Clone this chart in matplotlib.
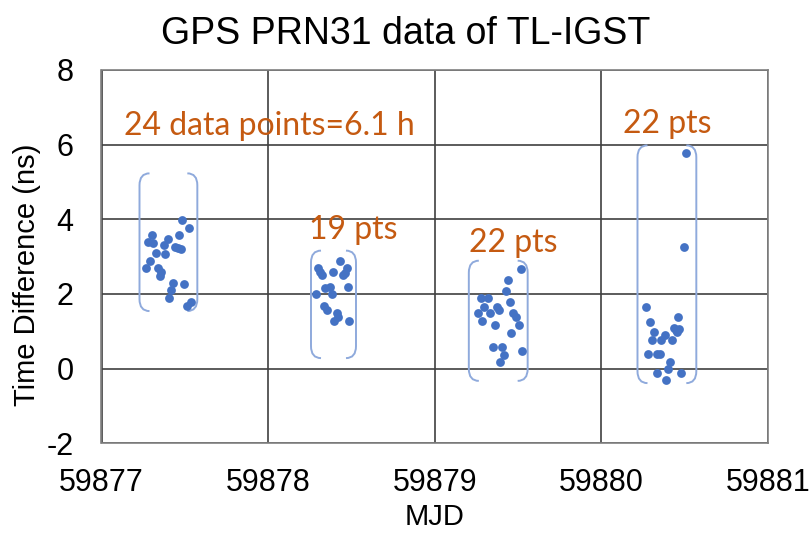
import matplotlib
matplotlib.use("Agg")
import matplotlib.pyplot as plt
from matplotlib.path import Path
from matplotlib.patches import PathPatch

plt.rcParams['axes.unicode_minus'] = False

# ---- data ----
mjd_day1 = [59877.483, 59877.525, 59877.304, 59877.463, 59877.397, 59877.280, 59877.309, 59877.373,
            59877.439, 59877.459, 59877.475, 59877.325, 59877.381, 59877.293, 59877.269, 59877.340,
            59877.359, 59877.349, 59877.429, 59877.493, 59877.415, 59877.405, 59877.535, 59877.515]
td_day1 = [3.99, 3.77, 3.58, 3.58, 3.47, 3.40, 3.36, 3.32, 3.27, 3.22, 3.21, 3.10, 3.07, 2.87, 2.69, 2.69,
           2.58, 2.48, 2.28, 2.27, 2.11, 1.89, 1.79, 1.68]

mjd_day2 = [59878.433, 59878.298, 59878.471, 59878.311, 59878.322, 59878.391, 59878.451, 59878.461,
            59878.341, 59878.371, 59878.477, 59878.287, 59878.381, 59878.337, 59878.353, 59878.413,
            59878.421, 59878.397, 59878.487]
td_day2 = [2.87, 2.70, 2.70, 2.60, 2.52, 2.58, 2.51, 2.56, 2.17, 2.19, 2.19, 2.00, 2.00, 1.68, 1.58, 1.49,
           1.37, 1.28, 1.28]

mjd_day3 = [59879.515, 59879.441, 59879.429, 59879.275, 59879.319, 59879.449, 59879.295, 59879.375,
            59879.385, 59879.262, 59879.331, 59879.469, 59879.485, 59879.286, 59879.505, 59879.359,
            59879.459, 59879.349, 59879.405, 59879.525, 59879.415, 59879.391]
td_day3 = [2.67, 2.37, 2.09, 1.88, 1.88, 1.77, 1.66, 1.66, 1.58, 1.48, 1.48, 1.49, 1.37, 1.28, 1.17, 1.16,
           0.95, 0.58, 0.58, 0.47, 0.36, 0.18]

mjd_day4 = [59880.507, 59880.497, 59880.268, 59880.457, 59880.289, 59880.437, 59880.467, 59880.313,
            59880.453, 59880.379, 59880.304, 59880.359, 59880.423, 59880.280, 59880.334, 59880.349,
            59880.413, 59880.399, 59880.334, 59880.479, 59880.389, 59880.445]
td_day4 = [5.78, 3.27, 1.66, 1.39, 1.26, 1.08, 1.06, 0.98, 0.97, 0.90, 0.77, 0.77, 0.77, 0.38, 0.38, 0.38,
           0.18, -0.02, -0.13, -0.13, -0.31, 1.02]

# bracket extents (x_left, x_right, y_bottom, y_top)
brackets = [(59877.228, 59877.575, 1.54, 5.23),
            (59878.257, 59878.527, 0.28, 3.16),
            (59879.204, 59879.557, -0.33, 2.89),
            (59880.216, 59880.569, -0.39, 5.98)]

labels = ["24 data points=6.1 h", "19 pts", "22 pts", "22 pts"]
label_pos = [(59878.005, 6.49), (59878.509, 3.72), (59879.473, 3.37), (59880.395, 6.55)]

x_ticks = [59877, 59878, 59879, 59880, 59881]
y_ticks = [-2, 0, 2, 4, 6, 8]

# ---- figure ----
fig = plt.figure(figsize=(8.12, 5.34), dpi=100)
ax = fig.add_axes([0.125, 0.170, 0.821, 0.699])

blue = "#4472C4"
orange = "#C55A11"
bracket_col = "#8FAADC"
grid_col = "#404040"

for xs, ys in [(mjd_day1, td_day1), (mjd_day2, td_day2), (mjd_day3, td_day3), (mjd_day4, td_day4)]:
    ax.scatter(xs, ys, s=40, color=blue, zorder=3, linewidths=0)

cap = 0.06
r = 0.32
for (xl, xr, yb, yt) in brackets:
    for side, x0 in ((1, xl), (-1, xr)):
        verts = [(x0 + side * cap, yt), (x0, yt), (x0, yt - r),
                 (x0, yb + r),
                 (x0, yb), (x0 + side * cap, yb)]
        codes = [Path.MOVETO, Path.CURVE3, Path.CURVE3, Path.LINETO, Path.CURVE3, Path.CURVE3]
        ax.add_patch(PathPatch(Path(verts, codes), facecolor="none", edgecolor=bracket_col,
                               linewidth=1.4, zorder=2))

for txt, (px, py) in zip(labels, label_pos):
    ax.text(px, py, txt, color=orange, fontsize=23, family="Lato", ha="center", va="center", zorder=4)

ax.set_xlim(59877, 59881)
ax.set_ylim(-2, 8)
ax.set_xticks(x_ticks)
ax.set_yticks(y_ticks)
ax.set_xticklabels([str(v) for v in x_ticks])
ax.set_yticklabels([str(v) for v in y_ticks])
ax.grid(True, color=grid_col, linewidth=1.2, zorder=0)
ax.set_axisbelow(True)
for sp in ax.spines.values():
    sp.set_color("#808080")
    sp.set_linewidth(1.2)
ax.tick_params(length=0, labelsize=22)
ax.tick_params(axis="x", pad=18)
ax.tick_params(axis="y", pad=20)
for lab in ax.get_xticklabels() + ax.get_yticklabels():
    lab.set_family("Liberation Sans")

fig.text(0.535, 1 - 517 / 534, "MJD", ha="center", va="center", fontsize=21, family="Liberation Sans")
fig.text(27 / 812, 1 - 275 / 534, "Time Difference (ns)", ha="center", va="center", rotation=90,
         fontsize=21, family="Liberation Sans")
fig.text(0.5, 0.937, "GPS PRN31 data of TL-IGST", ha="center", va="center", fontsize=27,
         family="Liberation Sans")

fig.savefig("out.png", dpi=100)
